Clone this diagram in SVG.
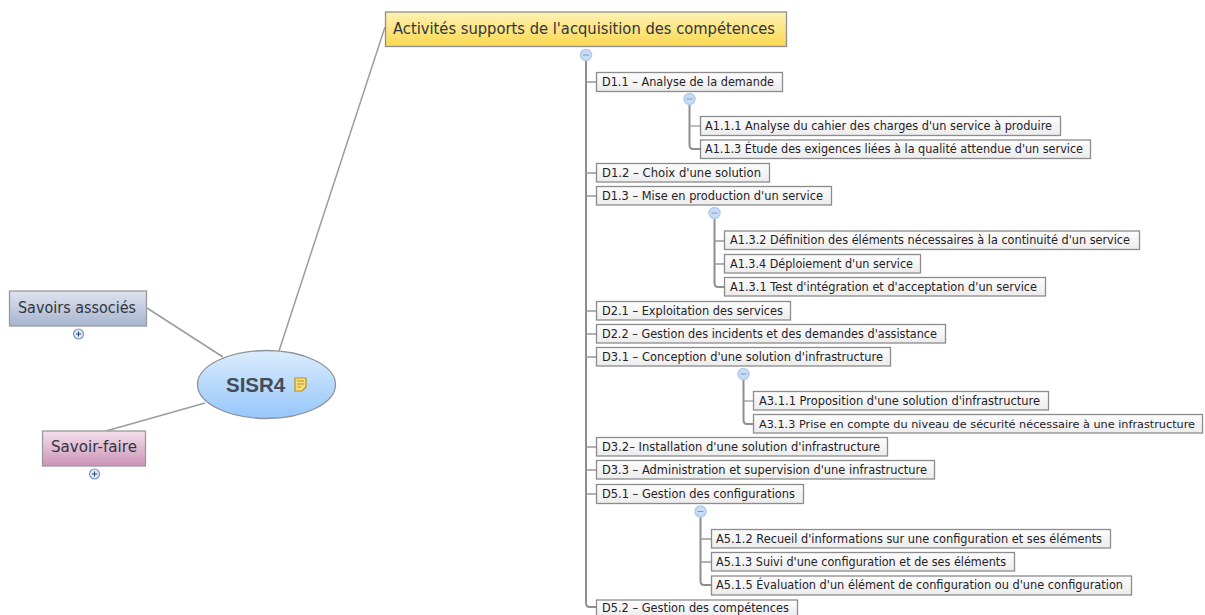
<svg xmlns="http://www.w3.org/2000/svg" width="1205" height="615" viewBox="0 0 1205 615">
<style>
text{font-family:"DejaVu Sans","Liberation Sans",sans-serif;fill:#1f2228;}
.t{font-size:12px;}
.s{font-size:11.300px;}
.l{font-size:15.500px;fill:#33363c;}
.hub{font-family:"Liberation Sans",Arial,sans-serif;font-size:20.500px;font-weight:700;fill:#454c58;}
.b{fill:url(#g);stroke:#8c8c8c;stroke-width:1.300;}
.c{fill:none;stroke:#999;stroke-width:1.300;}
.w{fill:none;stroke:#9c9c9c;stroke-width:1.500;}
.m{fill:none;stroke:#8e8e8e;stroke-width:2;}
.k{fill:#c9dcf6;stroke:#b5cbea;stroke-width:1.500;}
.ks{stroke:#7f9cc6;stroke-width:1;fill:none;}
.p{fill:#dbe7f7;stroke:#7f97ba;stroke-width:1.200;}
.ps{stroke:#2f4468;stroke-width:1;fill:none;}
</style>
<defs>
<linearGradient id="g" x1="0" y1="0" x2="0" y2="1"><stop offset="0" stop-color="#fdfdfd"/><stop offset="1" stop-color="#ececec"/></linearGradient>
<linearGradient id="y" x1="0" y1="0" x2="0" y2="1"><stop offset="0" stop-color="#fdf2b4"/><stop offset="1" stop-color="#fbd850"/></linearGradient>
<linearGradient id="bl" x1="0" y1="0" x2="0" y2="1"><stop offset="0" stop-color="#dfe3ee"/><stop offset="1" stop-color="#a6b4d0"/></linearGradient>
<linearGradient id="pk" x1="0" y1="0" x2="0" y2="1"><stop offset="0" stop-color="#f3dfea"/><stop offset="1" stop-color="#cb94b8"/></linearGradient>
<linearGradient id="e" x1="0" y1="0" x2="0" y2="1"><stop offset="0" stop-color="#dcecfd"/><stop offset="1" stop-color="#95c6fb"/></linearGradient>
</defs>
<g id="connectors">
<path class="w" d="M279 351L385 27M147 308L223 357M106 431L205 403"/>
<path class="m" d="M586 60V603Q586 607 590 607H597"/>
<path class="c" d="M586 82H597M586 173H597M586 196H597M586 311H597M586 334H597M586 357H597M586 447H597M586 470H597M586 494H597"/>
<path class="m" d="M689.500 105V145Q689.500 149 693 149H700"/>
<path class="c" d="M689.500 126H700"/>
<path class="m" d="M714.500 219V283Q714.500 287 718 287H724"/>
<path class="c" d="M714.500 241H724M714.500 264H724"/>
<path class="m" d="M743.500 380V420Q743.500 424 747 424H753"/>
<path class="c" d="M743.500 401H753"/>
<path class="m" d="M700.500 517V581Q700.500 585 704 585H711"/>
<path class="c" d="M700.500 539H711M700.500 562H711"/>
</g>
<g id="central"><ellipse cx="266.500" cy="384.500" rx="69" ry="34" fill="url(#e)" stroke="#8f9499" stroke-width="1.300"/><text class="hub" x="226" y="392">SISR4</text><path d="M295 378H306V387L302 391H295Z" fill="#f6df7c" stroke="#b98f1c" stroke-width="1.200"/><path d="M297 381H304M297 384H304M297 387H301" stroke="#b98f1c" stroke-width="1"/></g>
<g id="top"><rect x="385.500" y="12" width="401" height="34.500" fill="url(#y)" stroke="#8f8f8f" stroke-width="1.300"/><text class="l" x="393" y="34" textLength="382" lengthAdjust="spacingAndGlyphs">Activités supports de l'acquisition des compétences</text></g>
<g id="savoirs"><rect x="9.500" y="291" width="137" height="35" fill="url(#bl)" stroke="#9a9a9a" stroke-width="1.300"/><text class="l" x="18" y="313" textLength="118" lengthAdjust="spacingAndGlyphs">Savoirs associés</text></g>
<g id="savoirs-plus"><circle cx="78.500" cy="334" r="5" class="p"/><path class="ps" d="M76 334H81M78.500 331.500V336.500"/></g>
<g id="savoir-faire"><rect x="42.500" y="431" width="103" height="35" fill="url(#pk)" stroke="#9a9a9a" stroke-width="1.300"/><text class="l" x="51" y="452" textLength="86" lengthAdjust="spacingAndGlyphs">Savoir-faire</text></g>
<g id="faire-plus"><circle cx="94.500" cy="474" r="5" class="p"/><path class="ps" d="M92 474H97M94.500 471.500V476.500"/></g>
<g id="top-minus"><circle cx="586" cy="55" r="5.500" class="k"/><path class="ks" d="M583 55H589"/></g>
<g id="d11"><rect class="b" x="596.500" y="72.500" width="186" height="19"/><text class="t" x="602" y="86" textLength="172" lengthAdjust="spacingAndGlyphs">D1.1 – Analyse de la demande</text></g>
<g id="d11-minus"><circle cx="689.500" cy="99" r="5.500" class="k"/><path class="ks" d="M686.500 99H692.500"/></g>
<g id="a111"><rect class="b" x="700.500" y="116.500" width="360" height="19"/><text class="t" x="705" y="130" textLength="347" lengthAdjust="spacingAndGlyphs">A1.1.1 Analyse du cahier des charges d'un service à produire</text></g>
<g id="a113"><rect class="b" x="700.500" y="140" width="390" height="18.500"/><text class="t" x="705" y="153" textLength="378" lengthAdjust="spacingAndGlyphs">A1.1.3 Étude des exigences liées à la qualité attendue d'un service</text></g>
<g id="d12"><rect class="b" x="596.500" y="163.500" width="173" height="18.500"/><text class="t" x="602" y="177" textLength="159" lengthAdjust="spacingAndGlyphs">D1.2 – Choix d'une solution</text></g>
<g id="d13"><rect class="b" x="596.500" y="186.500" width="235" height="18.500"/><text class="t" x="602" y="200" textLength="221" lengthAdjust="spacingAndGlyphs">D1.3 – Mise en production d'un service</text></g>
<g id="d13-minus"><circle cx="714.500" cy="213" r="5.500" class="k"/><path class="ks" d="M711.500 213H717.500"/></g>
<g id="a132"><rect class="b" x="724.500" y="231" width="415" height="18.500"/><text class="t" x="730" y="244" textLength="400" lengthAdjust="spacingAndGlyphs">A1.3.2 Définition des éléments nécessaires à la continuité d'un service</text></g>
<g id="a134"><rect class="b" x="724.500" y="254.500" width="196" height="18.500"/><text class="t" x="730" y="268" textLength="183" lengthAdjust="spacingAndGlyphs">A1.3.4 Déploiement d'un service</text></g>
<g id="a131"><rect class="b" x="724.500" y="277.500" width="321" height="18.500"/><text class="t" x="730" y="291" textLength="307" lengthAdjust="spacingAndGlyphs">A1.3.1 Test d'intégration et d'acceptation d'un service</text></g>
<g id="d21"><rect class="b" x="596.500" y="301.500" width="194" height="18.500"/><text class="t" x="602" y="315" textLength="181" lengthAdjust="spacingAndGlyphs">D2.1 – Exploitation des services</text></g>
<g id="d22"><rect class="b" x="596.500" y="324.500" width="349" height="18.500"/><text class="t" x="602" y="338" textLength="335" lengthAdjust="spacingAndGlyphs">D2.2 – Gestion des incidents et des demandes d'assistance</text></g>
<g id="d31"><rect class="b" x="596.500" y="347.500" width="294" height="18.500"/><text class="t" x="602" y="361" textLength="281" lengthAdjust="spacingAndGlyphs">D3.1 – Conception d'une solution d'infrastructure</text></g>
<g id="d31-minus"><circle cx="743.500" cy="374" r="5.500" class="k"/><path class="ks" d="M740.500 374H746.500"/></g>
<g id="a311"><rect class="b" x="753.500" y="391.500" width="295" height="18.500"/><text class="t" x="759" y="405" textLength="281" lengthAdjust="spacingAndGlyphs">A3.1.1 Proposition d'une solution d'infrastructure</text></g>
<g id="a313"><rect class="b" x="753.500" y="414.500" width="449" height="18.500"/><text class="s" x="759" y="428" textLength="436" lengthAdjust="spacingAndGlyphs">A3.1.3 Prise en compte du niveau de sécurité nécessaire à une infrastructure</text></g>
<g id="d32"><rect class="b" x="596.500" y="437.500" width="291" height="18.500"/><text class="t" x="602" y="451" textLength="278" lengthAdjust="spacingAndGlyphs">D3.2– Installation d'une solution d'infrastructure</text></g>
<g id="d33"><rect class="b" x="596.500" y="460.500" width="338" height="18.500"/><text class="t" x="602" y="474" textLength="325" lengthAdjust="spacingAndGlyphs">D3.3 – Administration et supervision d'une infrastructure</text></g>
<g id="d51"><rect class="b" x="596.500" y="484.500" width="207" height="19"/><text class="t" x="602" y="498" textLength="193" lengthAdjust="spacingAndGlyphs">D5.1 – Gestion des configurations</text></g>
<g id="d51-minus"><circle cx="700.500" cy="511.500" r="5.500" class="k"/><path class="ks" d="M697.500 511.500H703.500"/></g>
<g id="a512"><rect class="b" x="711.500" y="529.500" width="399" height="18.500"/><text class="t" x="716" y="543" textLength="386" lengthAdjust="spacingAndGlyphs">A5.1.2 Recueil d'informations sur une configuration et ses éléments</text></g>
<g id="a513"><rect class="b" x="711.500" y="552.500" width="303" height="18.500"/><text class="t" x="716" y="566" textLength="290" lengthAdjust="spacingAndGlyphs">A5.1.3 Suivi d'une configuration et de ses éléments</text></g>
<g id="a515"><rect class="b" x="711.500" y="576" width="420" height="19"/><text class="t" x="716" y="589" textLength="407" lengthAdjust="spacingAndGlyphs">A5.1.5 Évaluation d'un élément de configuration ou d'une configuration</text></g>
<g id="d52"><rect class="b" x="596.500" y="600" width="201" height="19"/><text class="t" x="602" y="612" textLength="187" lengthAdjust="spacingAndGlyphs">D5.2 – Gestion des compétences</text></g>
</svg>
